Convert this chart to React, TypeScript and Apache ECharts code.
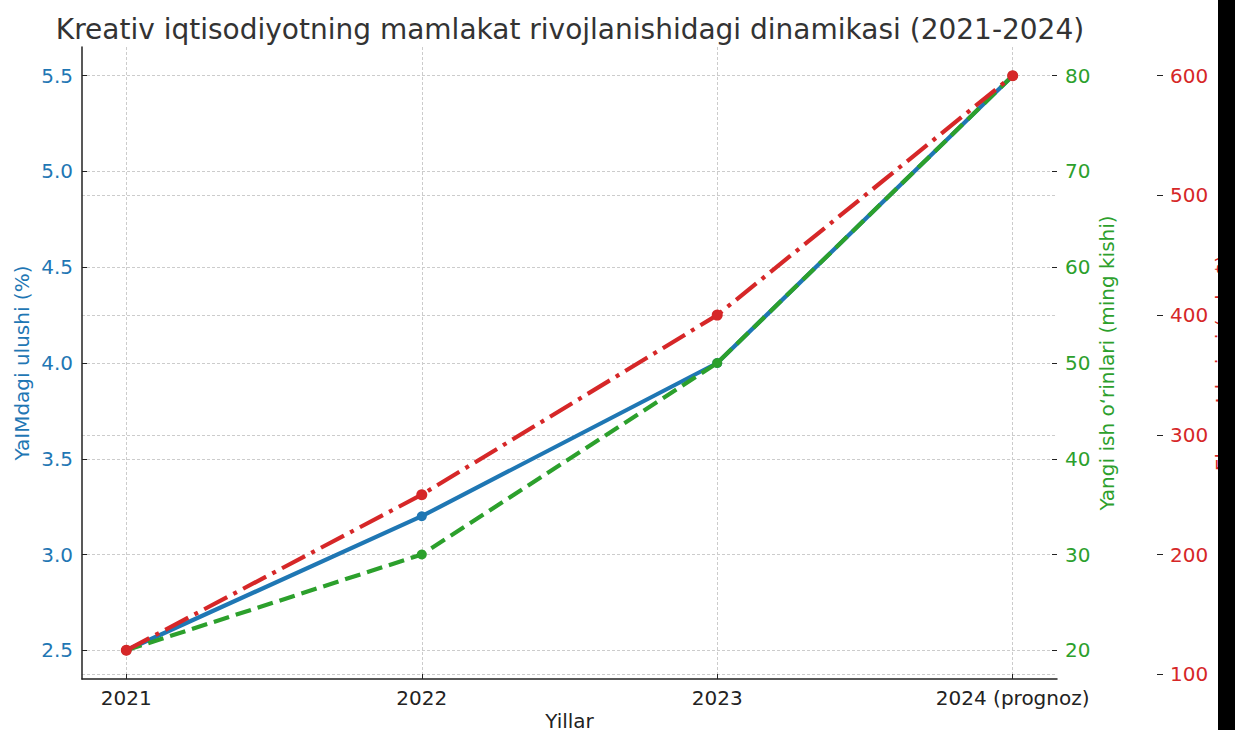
import React, { useEffect, useRef } from "react";
import * as echarts from "echarts";

const titleText = "Kreativ iqtisodiyotning mamlakat rivojlanishidagi dinamikasi (2021-2024)";
const years = ["2021", "2022", "2023", "2024 (prognoz)"];
const gdpShare = [2.5, 3.2, 4.0, 5.5];
const newJobs = [20, 30, 50, 80];
const exportVolume = [120, 250, 400, 600];
const xTicks = [0, 1, 2, 3];
const gdpTicks = [2.5, 3.0, 3.5, 4.0, 4.5, 5.0, 5.5];
const jobTicks = [20, 30, 40, 50, 60, 70, 80];
const exportTicks = [100, 200, 300, 400, 500, 600];

const BLUE = "#1f77b4";
const GREEN = "#2ca02c";
const RED = "#d62728";
const DARK = "#222222";
const FONT = "DejaVu Sans";

const gridLine = { show: true, lineStyle: { color: "#cccccc", width: 1, type: [3, 2] as any } };

export default function App() {
  const ref = useRef<HTMLDivElement>(null);
  useEffect(() => {
    if (!ref.current) return;
    const chart = echarts.init(ref.current, null, { renderer: "svg" });
    const pts = (vals: number[]) => vals.map((v, i) => [xTicks[i], v]);
    const option: any = {
      animation: false,
      textStyle: { fontFamily: FONT },
      grid: { left: 82, right: 178, top: 47, bottom: 51, containLabel: false, outerBoundsMode: "none" },
      graphic: [
        {
          type: "text",
          x: 570,
          y: 29,
          style: { text: titleText, fontFamily: FONT, fontSize: 28, fill: "#333333", textAlign: "center", textVerticalAlign: "middle" },
          z: 10,
        },
        { type: "rect", shape: { x: 1218, y: 0, width: 17, height: 730 }, style: { fill: "#000000" }, z: 100 },
      ],
      xAxis: {
        type: "value",
        min: -0.15,
        max: 3.15,
        name: "Yillar",
        nameLocation: "middle",
        nameGap: 32,
        nameMoveOverlap: false,
        nameTextStyle: { fontSize: 20, color: DARK, fontFamily: FONT },
        axisLine: { show: true, onZero: false, lineStyle: { color: DARK, width: 1.5 } },
        axisTick: { show: true, inside: true, length: 5, customValues: xTicks, lineStyle: { color: DARK } },
        axisLabel: { customValues: xTicks, fontSize: 20, color: DARK, margin: 9, formatter: (v: number) => years[Math.round(v)] },
        splitLine: gridLine,
      },
      yAxis: [
        {
          type: "value",
          position: "left",
          min: 2.35,
          max: 5.65,
          name: "YaIMdagi ulushi (%)",
          nameLocation: "middle",
          nameGap: 50,
          nameMoveOverlap: false,
          nameTextStyle: { fontSize: 20, color: BLUE, fontFamily: FONT },
          axisLine: { show: true, onZero: false, lineStyle: { color: DARK, width: 1.5 } },
          axisTick: { show: true, inside: true, length: 5, customValues: gdpTicks, lineStyle: { color: DARK } },
          axisLabel: { customValues: gdpTicks, fontSize: 20, color: BLUE, margin: 9, formatter: (v: number) => v.toFixed(1) },
          splitLine: gridLine,
        },
        {
          type: "value",
          position: "right",
          offset: 0,
          min: 17,
          max: 83,
          name: "Yangi ish o‘rinlari (ming kishi)",
          nameLocation: "middle",
          nameGap: 40,
          nameMoveOverlap: false,
          nameTextStyle: { fontSize: 20, color: GREEN, fontFamily: FONT },
          axisLine: { show: false, onZero: false, lineStyle: { color: DARK } },
          axisTick: { show: true, inside: true, length: 5, customValues: jobTicks, lineStyle: { color: DARK } },
          axisLabel: { customValues: jobTicks, fontSize: 20, color: GREEN, margin: 8 },
          splitLine: { show: false },
        },
        {
          type: "value",
          position: "right",
          offset: 106,
          min: 96,
          max: 624,
          name: "Eksport hajmi (mln $)",
          nameLocation: "middle",
          nameGap: 50,
          nameMoveOverlap: false,
          nameTextStyle: { fontSize: 20, color: RED, fontFamily: FONT },
          axisLine: { show: false, onZero: false, lineStyle: { color: DARK } },
          axisTick: { show: true, inside: true, length: 6, customValues: exportTicks, lineStyle: { color: DARK } },
          axisLabel: { customValues: exportTicks, fontSize: 20, color: RED, margin: 7 },
          splitLine: gridLine,
        },
      ],
      series: [
        {
          name: "YaIMdagi ulushi (%)",
          type: "line",
          yAxisIndex: 0,
          data: pts(gdpShare),
          symbol: "circle",
          symbolSize: 10,
          z: 2,
          lineStyle: { color: BLUE, width: 4.2 },
          itemStyle: { color: BLUE },
        },
        {
          name: "Yangi ish o‘rinlari (ming kishi)",
          type: "line",
          yAxisIndex: 1,
          data: pts(newJobs),
          symbol: "circle",
          symbolSize: 10,
          z: 3,
          lineStyle: { color: GREEN, width: 4.2, type: [16, 7], cap: "butt" },
          itemStyle: { color: GREEN },
        },
        {
          name: "Eksport hajmi (mln $)",
          type: "line",
          yAxisIndex: 2,
          data: pts(exportVolume),
          symbol: "circle",
          symbolSize: 11,
          z: 4,
          lineStyle: { color: RED, width: 4.2, type: [26, 7, 4, 7], cap: "butt" },
          itemStyle: { color: RED },
        },
      ],
    };
    chart.setOption(option);
    return () => chart.dispose();
  }, []);
  return <div ref={ref} style={{ position: "absolute", left: 0, top: 0, width: 1235, height: 730, background: "#ffffff" }} />;
}
